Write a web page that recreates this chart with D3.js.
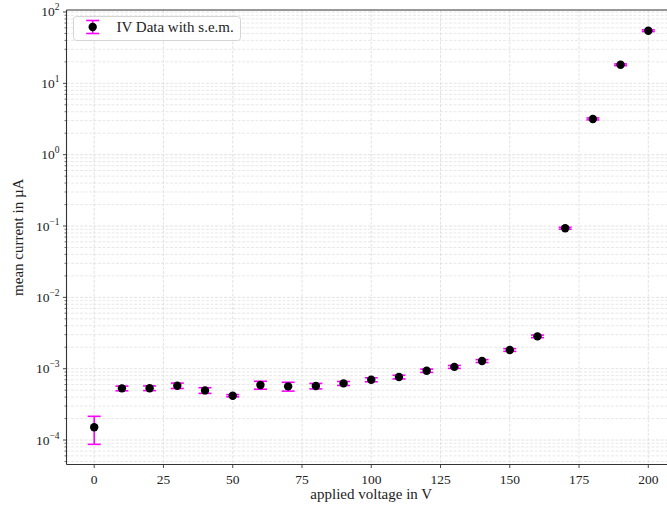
<!DOCTYPE html>
<html><head><meta charset="utf-8">
<script src="https://cdn.jsdelivr.net/npm/d3@7"></script>
<style>body{margin:0;background:#fff}svg{display:block}text{font-family:"Liberation Serif","DejaVu Serif",serif;fill:#222}</style>
</head><body><svg id="c" width="667" height="508"></svg>
<script>
const voltages = [0,10,20,30,40,50,60,70,80,90,100,110,120,130,140,150,160,170,180,190,200];
const currents = [1.51e-4,5.3e-4,5.33e-4,5.78e-4,4.96e-4,4.18e-4,5.91e-4,5.65e-4,5.71e-4,6.22e-4,7.01e-4,7.64e-4,9.37e-4,1.06e-3,1.28e-3,1.83e-3,2.84e-3,0.093,3.17,18.2,54.7];
const sems = [6.4e-5,0.4e-4,0.4e-4,0.5e-4,0.45e-4,0.15e-4,0.75e-4,0.8e-4,0.5e-4,0.4e-4,0.45e-4,0.45e-4,0.5e-4,0.5e-4,0.6e-4,0.8e-4,1.2e-4,0.003,0.1,0.5,1.5];
const xTicks = [0,25,50,75,100,125,150,175,200];
const yExps = [-4,-3,-2,-1,0,1,2];
const xLabel = "applied voltage in V";
const yLabel = "mean current in µA";
const legendLabel = "IV Data with s.e.m.";

const svg = d3.select("#c");
const L = 66.5, R = 676, T = 10, B = 464.5;
const x = d3.scaleLinear().domain([-10,210]).range([L,R]);
const y = d3.scaleLog().domain([Math.pow(10,-4.343), Math.pow(10,2.028)]).range([B,T]);

// grid
const g = svg.append("g");
const minorVals = [];
yExps.concat([-5]).forEach(e => { for (let m=2;m<=9;m++){ const v=m*Math.pow(10,e); if (v>=y.domain()[0] && v<=y.domain()[1]) minorVals.push(v);} });
g.selectAll(".ym").data(minorVals).join("line")
  .attr("x1",L).attr("x2",R).attr("y1",d=>y(d)).attr("y2",d=>y(d))
  .attr("stroke","#e2e2e2").attr("stroke-width",0.8).attr("stroke-dasharray","3,1.5");
g.selectAll(".yM").data(yExps).join("line")
  .attr("x1",L).attr("x2",R).attr("y1",d=>y(Math.pow(10,d))).attr("y2",d=>y(Math.pow(10,d)))
  .attr("stroke","#dcdcdc").attr("stroke-width",0.8).attr("stroke-dasharray","3,1.5");
g.selectAll(".xg").data(xTicks).join("line")
  .attr("y1",T).attr("y2",B).attr("x1",d=>x(d)).attr("x2",d=>x(d))
  .attr("stroke","#dcdcdc").attr("stroke-width",0.8).attr("stroke-dasharray","3,1.5");

// axes
const ax = svg.append("g").attr("stroke","#333");
ax.append("line").attr("x1",L).attr("x2",L).attr("y1",T).attr("y2",B).attr("stroke-width",1.1);
ax.append("line").attr("x1",L).attr("x2",R).attr("y1",B).attr("y2",B).attr("stroke-width",1.1);
ax.append("line").attr("x1",L).attr("x2",R).attr("y1",T).attr("y2",T).attr("stroke-width",1.1);
ax.append("line").attr("x1",R).attr("x2",R).attr("y1",T).attr("y2",B).attr("stroke-width",1.1);
ax.selectAll(".xt").data(xTicks).join("line")
  .attr("x1",d=>x(d)).attr("x2",d=>x(d)).attr("y1",B).attr("y2",B+3.5).attr("stroke-width",0.9);
ax.selectAll(".yt").data(yExps).join("line")
  .attr("x1",L-3.5).attr("x2",L).attr("y1",d=>y(Math.pow(10,d))).attr("y2",d=>y(Math.pow(10,d))).attr("stroke-width",0.9);
ax.selectAll(".ymt").data(minorVals).join("line")
  .attr("x1",L-2).attr("x2",L).attr("y1",d=>y(d)).attr("y2",d=>y(d)).attr("stroke-width",0.7);

svg.selectAll(".xl").data(xTicks).join("text")
  .attr("x",d=>x(d)).attr("y",B+19.5).attr("text-anchor","middle").attr("font-size",13.5).text(d=>d);
const yl = svg.selectAll(".yl").data(yExps).join("text")
  .attr("x",L-7).attr("y",d=>y(Math.pow(10,d))+4.5).attr("text-anchor","end").attr("font-size",13.5);
yl.append("tspan").text("10");
yl.append("tspan").attr("dy",-6).attr("font-size",9.5).text(d=>d<0?"\u2212"+(-d):String(d));

svg.append("text").attr("x",(L+R)/2).attr("y",499).attr("text-anchor","middle").attr("font-size",15).text(xLabel);
svg.append("text").attr("transform",`translate(22.5,${(T+B)/2}) rotate(-90)`).attr("text-anchor","middle").attr("font-size",15).text(yLabel);

// data
const data = voltages.map((v,i)=>({v, c:currents[i], s:sems[i]}));
const eb = svg.append("g").attr("stroke","#ff00ff").attr("stroke-width",1.6);
eb.selectAll(".v").data(data).join("line")
  .attr("x1",d=>x(d.v)).attr("x2",d=>x(d.v)).attr("y1",d=>y(d.c+d.s)).attr("y2",d=>y(d.c-d.s));
eb.selectAll(".t").data(data).join("line")
  .attr("x1",d=>x(d.v)-6.5).attr("x2",d=>x(d.v)+6.5).attr("y1",d=>y(d.c+d.s)).attr("y2",d=>y(d.c+d.s));
eb.selectAll(".b").data(data).join("line")
  .attr("x1",d=>x(d.v)-6.5).attr("x2",d=>x(d.v)+6.5).attr("y1",d=>y(d.c-d.s)).attr("y2",d=>y(d.c-d.s));
svg.selectAll(".pt").data(data).join("circle")
  .attr("cx",d=>x(d.v)).attr("cy",d=>y(d.c)).attr("r",4.2).attr("fill","#000");

// legend
const lg = svg.append("g");
lg.append("rect").attr("x",73.5).attr("y",16.5).attr("width",167).attr("height",24).attr("rx",3)
  .attr("fill","#fff").attr("fill-opacity",0.8).attr("stroke","#d0d0d0").attr("stroke-width",0.9);
const lx = 92.7, ly = 27;
lg.append("line").attr("x1",lx).attr("x2",lx).attr("y1",ly-6.5).attr("y2",ly+6.5).attr("stroke","#ff00ff").attr("stroke-width",1.6);
lg.append("line").attr("x1",lx-6.5).attr("x2",lx+6.5).attr("y1",ly-6.5).attr("y2",ly-6.5).attr("stroke","#ff00ff").attr("stroke-width",1.6);
lg.append("line").attr("x1",lx-6.5).attr("x2",lx+6.5).attr("y1",ly+6.5).attr("y2",ly+6.5).attr("stroke","#ff00ff").attr("stroke-width",1.6);
lg.append("circle").attr("cx",lx).attr("cy",ly).attr("r",4.2).attr("fill","#000");
lg.append("text").attr("x",116.5).attr("y",32).attr("font-size",15).text(legendLabel);
</script></body></html>
